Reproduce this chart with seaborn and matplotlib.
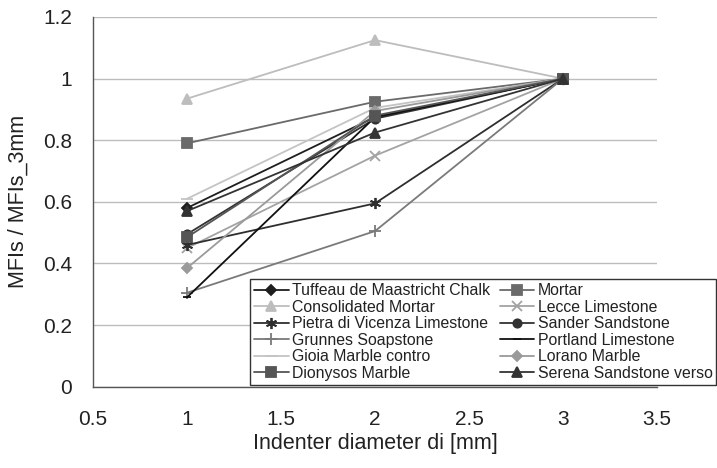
import matplotlib
matplotlib.use("Agg")
import matplotlib.pyplot as plt
import seaborn as sns
import pandas as pd
import numpy as np
from matplotlib.ticker import MultipleLocator, FuncFormatter

sns.set_theme(style="white")
plt.rcParams['font.family'] = ['Liberation Sans', 'DejaVu Sans']

diameters = [1, 2, 3]
tuffeau = [0.58, 0.875, 1.0]
mortar = [0.79, 0.925, 1.0]
consolidated = [0.935, 1.125, 1.0]
lecce = [0.45, 0.75, 1.0]
pietra = [0.46, 0.595, 1.0]
sander = [0.495, 0.87, 1.0]
grunnes = [0.305, 0.505, 1.0]
portland = [0.29, 0.875, 1.0]
gioia = [0.61, 0.905, 1.0]
lorano = [0.385, 0.895, 1.0]
dionysos = [0.485, 0.88, 1.0]
serena = [0.57, 0.825, 1.0]

names = ["Tuffeau de Maastricht Chalk", "Mortar", "Consolidated Mortar", "Lecce Limestone",
         "Pietra di Vicenza Limestone", "Sander Sandstone", "Grunnes Soapstone", "Portland Limestone",
         "Gioia Marble contro", "Lorano Marble", "Dionysos Marble", "Serena Sandstone verso"]
values = [tuffeau, mortar, consolidated, lecce, pietra, sander, grunnes, portland,
          gioia, lorano, dionysos, serena]

styles = {
    "Tuffeau de Maastricht Chalk": dict(color="#1e1e1e", marker="D", ms=5),
    "Mortar": dict(color="#6a6a6a", marker="s", ms=6.5),
    "Consolidated Mortar": dict(color="#bdbdbd", marker="^", ms=7),
    "Lecce Limestone": dict(color="#a3a3a3", marker="x", ms=7),
    "Pietra di Vicenza Limestone": dict(color="#2e2e2e", marker=(6, 2, 0), ms=8),
    "Sander Sandstone": dict(color="#333333", marker="o", ms=6),
    "Grunnes Soapstone": dict(color="#7a7a7a", marker="+", ms=9),
    "Portland Limestone": dict(color="#111111", marker="_", ms=6),
    "Gioia Marble contro": dict(color="#c4c4c4", marker="_", ms=8),
    "Lorano Marble": dict(color="#9a9a9a", marker="D", ms=5.5),
    "Dionysos Marble": dict(color="#555555", marker="s", ms=7),
    "Serena Sandstone verso": dict(color="#333333", marker="^", ms=7),
}

rows = []
for n, v in zip(names, values):
    for d, y in zip(diameters, v):
        rows.append({"series": n, "d": d, "ratio": y})
df = pd.DataFrame(rows)

fig = plt.figure(figsize=(7.17, 4.68), dpi=100)
ax = fig.add_axes([93 / 717, 1 - 386.7 / 468, (657 - 93) / 717, (386.7 - 17) / 468])

for n in names:
    st = styles[n]
    sub = df[df["series"] == n]
    sns.lineplot(data=sub, x="d", y="ratio", ax=ax, color=st["color"], marker=st["marker"],
                 markersize=st["ms"], markeredgecolor=st["color"], markerfacecolor=st["color"],
                 markeredgewidth=1.3, linewidth=1.3, label=n, legend=False)

ax.set_xlim(0.5, 3.5)
ax.set_ylim(0, 1.2)
ax.xaxis.set_major_locator(MultipleLocator(0.5))
ax.xaxis.set_minor_locator(MultipleLocator(0.1))
ax.yaxis.set_major_locator(MultipleLocator(0.2))
ax.yaxis.set_minor_locator(MultipleLocator(0.04))
fmt = FuncFormatter(lambda v, p: "%g" % round(v, 2))
ax.xaxis.set_major_formatter(fmt)
ax.yaxis.set_major_formatter(fmt)

ax.grid(False)
ax.yaxis.grid(True, which="major", color="#bdbdbd", linewidth=1.0)
ax.set_axisbelow(True)
for s in ["top", "right"]:
    ax.spines[s].set_visible(False)
for s in ["left", "bottom"]:
    ax.spines[s].set_color("#555555")
    ax.spines[s].set_linewidth(1.0)

ax.tick_params(which="major", direction="inout", length=8, width=1, color="#555555",
               labelsize=15, labelcolor="#222222")
ax.tick_params(which="minor", direction="in", length=4, width=0.8, color="#555555")
ax.tick_params(axis="x", which="major", pad=13)
ax.tick_params(axis="y", which="major", pad=11)

ax.set_xlabel("Indenter diameter di [mm]", fontsize=15.5, color="#222222")
ax.set_ylabel("MFIs / MFIs_3mm", fontsize=15.5, color="#222222")
ax.xaxis.label.set_va("center")
ax.yaxis.label.set_va("center")
ax.xaxis.set_label_coords(0.5, (386.7 - 443) / (386.7 - 17))
ax.yaxis.set_label_coords((18 - 93) / (657 - 93), 0.5)

handles, labels = ax.get_legend_handles_labels()
hmap = dict(zip(labels, handles))
col1 = names[0::2]
col2 = names[1::2]
order = col1 + col2
leg = fig.legend([hmap[n] for n in order], order, ncol=2, loc="lower left",
                 bbox_to_anchor=(250 / 717, (468 - 385) / 468),
                 frameon=True, fancybox=False, fontsize=11.4, handlelength=2.2,
                 handletextpad=0.2, columnspacing=0.6, labelspacing=0.1,
                 borderpad=0.25, borderaxespad=0)
leg.get_frame().set_edgecolor("#333333")
leg.get_frame().set_linewidth(1.0)
leg.get_frame().set_facecolor("white")
leg.get_frame().set_alpha(1)
for t in leg.get_texts():
    t.set_color("#222222")

fig.savefig("out.png", dpi=100)
